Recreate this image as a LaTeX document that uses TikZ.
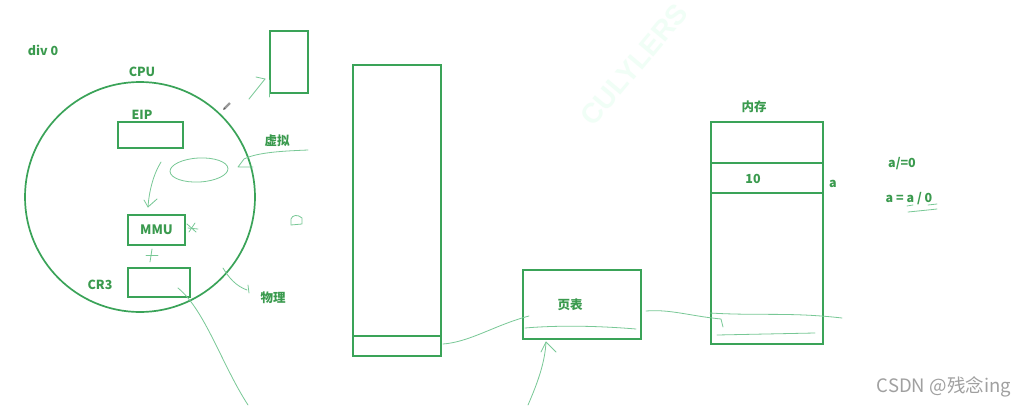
\documentclass[tikz,border=0pt]{standalone}
\usepackage{fontspec}
\setmainfont{Noto Sans CJK SC}
\newfontfamily\wmfont{Liberation Sans}
\definecolor{boxgreen}{RGB}{58,163,88}
\definecolor{txtgreen}{RGB}{58,154,78}
\definecolor{handgreen}{RGB}{120,200,150}
\definecolor{wmgreen}{RGB}{240,254,246}
\definecolor{csdngray}{RGB}{160,160,160}
\tikzset{
  box/.style={draw=boxgreen, line width=1.7pt, inner sep=0pt, outer sep=0pt, anchor=north west},
  lbl/.style={text=txtgreen, font=\bfseries\fontsize{12.5}{14}\selectfont, inner sep=0pt},
  hand/.style={draw=handgreen, line width=0.8pt, line cap=round, line join=round},
}
\begin{document}
\begin{tikzpicture}[x=1pt,y=-1pt]
\useasboundingbox (0,0) rectangle (1013,405);
\clip (0,0) rectangle (1013,405);
\fill[white] (0,0) rectangle (1013,405);

% watermark
\node[text=wmgreen, font=\wmfont\bfseries\fontsize{28}{28}\selectfont, rotate=50, anchor=south west, inner sep=0pt] (wm) at (594,128) {CULYLERS};

% CPU circle
\node[draw=boxgreen, line width=1.7pt, circle, minimum size=230pt, inner sep=0pt] (cpu) at (140,197) {};
\node[lbl] (cpulbl) at (142,72) {CPU};
\node[lbl] (div) at (43,50) {div 0};

% boxes inside CPU
\node[box, minimum width=65pt, minimum height=26pt] (eip) at (118,122) {};
\node[lbl] (eiplbl) at (142,115) {EIP};
\node[box, minimum width=57pt, minimum height=30pt] (mmu) at (128,215) {};
\node[lbl, font=\bfseries\fontsize{13}{14}\selectfont] (mmulbl) at (mmu.center) {MMU};
\node[box, minimum width=62pt, minimum height=29pt] (cr3) at (128,268) {};
\node[lbl] (cr3lbl) at (100,285) {CR3};

% small top box
\node[box, minimum width=38pt, minimum height=62pt] (topbox) at (270,31) {};

% tall box (virtual space)
\node[box, minimum width=88pt, minimum height=291pt] (tall) at (353,65) {};
\draw[boxgreen, line width=1.7pt] (tall.west |- 0,336) coordinate (tdl) -- (tall.east |- 0,336) coordinate (tdr);

% page table
\node[box, minimum width=118pt, minimum height=69pt] (pt) at (523,270) {};
\node[lbl] (ptlbl) at (570,305) {页表};

% memory
\node[box, minimum width=112pt, minimum height=222pt] (mem) at (711,122) {};
\draw[boxgreen, line width=1.7pt] (mem.west |- 0,163) -- (mem.east |- 0,163);
\draw[boxgreen, line width=1.7pt] (mem.west |- 0,193) -- (mem.east |- 0,193);
\node[lbl] (memlbl) at (754,107) {内存};
\node[lbl] (ten) at (753,179) {10};
\node[lbl] (alab) at (833,184) {a};

% right texts
\node[lbl] (ane) at (902,164) {a/=0};
\node[lbl] (adiv) at (909,199) {a = a / 0};
\draw[hand] (907,206) -- (913,205);
\draw[hand] (928,205) -- (937,204);
\draw[hand] (908,212) .. controls (918,211) and (928,210) .. (937,209);

% side labels
\node[lbl] (virt) at (277,141) {虚拟};
\node[lbl] (phys) at (273,298) {物理};

% CSDN mark
\node[text=csdngray, font=\fontsize{18.5}{19}\selectfont, anchor=east, inner sep=0pt] (csdn) at (1011,387) {CSDN @残念ing};

% pencil cursor
\draw[gray!80, line width=2.2pt] (224,109) -- (230,103);
\fill[gray!70!black] (223,110) -- (224.5,107.5) -- (225.5,108.5) -- cycle;

% hand drawn strokes
\coordinate (a1) at (161,162);
\coordinate (a2) at (148,207);
\draw[hand] (a1) .. controls (153,175) and (149,192) .. (a2);
\draw[hand] (144,200) -- (a2) -- (157,199);

\draw[hand, rotate around={3:(199,170)}] (199,170) ellipse [x radius=29, y radius=12];

% MMU scribble
\draw[hand] (187,224) -- (196,232);
\draw[hand] (189,232) -- (195,223);
\draw[hand] (188,228) -- (198,229);
% plus
\draw[hand] (152,249) -- (150,262);
\draw[hand] (146,255) -- (158,255);

% arrow to top box
\coordinate (t1) at (249,99);
\coordinate (t2) at (265,79);
\draw[hand] (t1) -- (t2);
\draw[hand] (256,77) -- (t2);
\draw[hand] (269,80) -- (269,97);

% virtual hook
\coordinate (v1) at (308,150);
\draw[hand] (v1) .. controls (285,151) and (258,152) .. (244,159) -- (238,167) -- (253,167);

% small D shape
\draw[hand] (291,225) -- (291,219) .. controls (292,215) and (298,214) .. (302,218) -- (302,224) -- cycle;

% physical hook
\coordinate (p1) at (223,268);
\draw[hand] (p1) .. controls (229,278) and (236,286) .. (247,290);
\draw[hand] (248,285) -- (249,293);

% CR3 line
\coordinate (c1) at (178,288);
\coordinate (c2) at (248,405);
\draw[hand] (c1) .. controls (205,310) and (222,365) .. (c2);

% tall to page table
\coordinate (l1) at (443,344);
\coordinate (l2) at (529,316);
\draw[hand] (l1) .. controls (470,342) and (495,325) .. (l2);
\draw[hand] (525,328) .. controls (560,325) and (600,326) .. (636,329);

% arrow from bottom to page table
\coordinate (b1) at (528,405);
\coordinate (b2) at (546,342);
\draw[hand] (b1) .. controls (538,382) and (545,362) .. (b2);
\draw[hand] (541,352) -- (b2) -- (556,352);

% page table to memory
\coordinate (m1) at (646,311);
\coordinate (m2) at (721,319);
\draw[hand] (m1) .. controls (670,309) and (690,316) .. (m2) -- (723,327);
\draw[hand] (710,313) .. controls (760,316) and (790,312) .. (842,318);
\draw[hand] (717,335) -- (815,333);
\end{tikzpicture}
\end{document}
